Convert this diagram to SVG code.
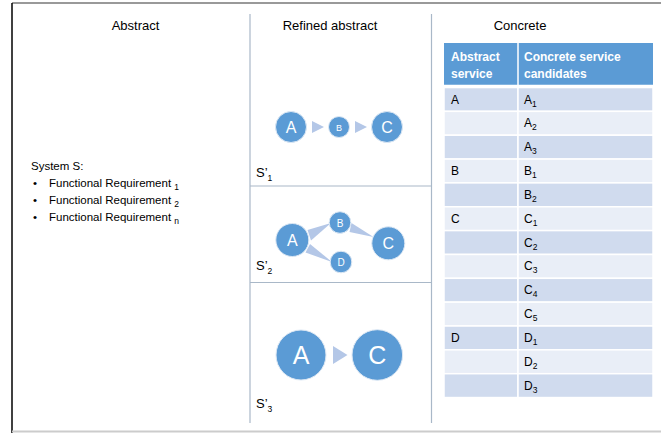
<svg xmlns="http://www.w3.org/2000/svg" width="661" height="433" viewBox="0 0 661 433">
<style>
text{font-family:"Liberation Sans",Arial,sans-serif;fill:#000}
.hd{font-size:13px;text-anchor:middle}
.req{font-size:11.5px}
.sub{font-size:8.5px}
.th{font-size:12px;font-weight:bold;fill:#fff}
.td{font-size:12px}
.node circle{fill:#5b9bd5;stroke:#dde8f4;stroke-width:1}
.node text{fill:#fff;text-anchor:middle}
.arr{fill:#b4c7e7}
.div{stroke:#a9b8c8;stroke-width:1.2}
.dk{fill:#d0dbee;stroke:#fff;stroke-width:1.5}
.lt{fill:#e9eef7;stroke:#fff;stroke-width:1.5}
.sl{font-size:13px}
</style>
<rect x="0" y="0" width="661" height="433" fill="#fff"/>
<g id="frame">
<line x1="12" y1="3" x2="661" y2="3" stroke="#777" stroke-width="1.5"/>
<line x1="12" y1="3" x2="12" y2="433" stroke="#000" stroke-width="1.5"/>
<line x1="12" y1="431.5" x2="661" y2="431.5" stroke="#ccc" stroke-width="2"/>
<line class="div" x1="250" y1="14" x2="250" y2="423"/>
<line class="div" x1="431.5" y1="14" x2="431.5" y2="423"/>
<line class="div" x1="250" y1="186" x2="431.5" y2="186"/>
<line class="div" x1="250" y1="282.5" x2="431.5" y2="282.5"/>
</g>
<g id="headers">
<text class="hd" x="135.5" y="30">Abstract</text>
<text class="hd" x="330" y="30">Refined abstract</text>
<text class="hd" x="520" y="30">Concrete</text>
</g>
<g id="system-s">
<text class="req" x="31" y="170">System S:</text>
<text class="req" x="33" y="187">•</text>
<text class="req" x="49" y="187">Functional Requirement <tspan class="sub" dy="3">1</tspan></text>
<text class="req" x="33" y="204">•</text>
<text class="req" x="49" y="204">Functional Requirement <tspan class="sub" dy="3">2</tspan></text>
<text class="req" x="33" y="221">•</text>
<text class="req" x="49" y="221">Functional Requirement <tspan class="sub" dy="3">n</tspan></text>
</g>
<g id="connectors">
<polygon class="arr" points="312,121 324,127 312,133"/>
<polygon class="arr" points="355,121 367,127 355,133"/>
<polygon class="arr" points="307.5,230 311,240.5 331,223"/>
<polygon class="arr" points="351.5,223 349.5,232 373.5,237"/>
<polygon class="arr" points="310,244 305.5,252.5 332,262"/>
<polygon class="arr" points="333,346 347.5,355 333,364"/>
</g>
<g id="s1">
<text class="sl" x="256" y="177">S’<tspan class="sub" dy="4">1</tspan></text>
</g>
<g id="s1-A" class="node"><circle cx="291" cy="127" r="15.5"/><text x="291" y="133" font-size="16">A</text></g>
<g id="s1-B" class="node"><circle cx="339" cy="127" r="10.5"/><text x="339" y="130.5" font-size="9">B</text></g>
<g id="s1-C" class="node"><circle cx="387" cy="127" r="15.5"/><text x="387" y="133" font-size="16">C</text></g>
<g id="s2">
<text class="sl" x="256" y="270">S’<tspan class="sub" dy="4">2</tspan></text>
</g>
<g id="s2-A" class="node"><circle cx="292.3" cy="240" r="16.5"/><text x="292.3" y="246" font-size="16">A</text></g>
<g id="s2-B" class="node"><circle cx="340" cy="222.5" r="10.8"/><text x="340" y="226.5" font-size="10">B</text></g>
<g id="s2-C" class="node"><circle cx="388.3" cy="243.3" r="16.5"/><text x="388.3" y="249.3" font-size="16">C</text></g>
<g id="s2-D" class="node"><circle cx="341" cy="262" r="10.8"/><text x="341" y="266" font-size="10">D</text></g>
<g id="s3">
<text class="sl" x="256" y="408">S’<tspan class="sub" dy="4">3</tspan></text>
</g>
<g id="s3-A" class="node"><circle cx="301" cy="355" r="25"/><text x="301" y="364" font-size="25">A</text></g>
<g id="s3-C" class="node"><circle cx="377.3" cy="355" r="25.3"/><text x="377.3" y="364" font-size="25">C</text></g>
<g id="table">
<rect x="444" y="43" width="209" height="43" fill="#5b9bd5"/>
<line x1="518" y1="43" x2="518" y2="86" stroke="#fff" stroke-width="1.5"/>
<line x1="444" y1="86" x2="653" y2="86" stroke="#fff" stroke-width="2.5"/>
<text class="th" x="451" y="61">Abstract</text>
<text class="th" x="451" y="78">service</text>
<text class="th" x="524" y="61">Concrete service</text>
<text class="th" x="524" y="78">candidates</text>
<rect class="dk" x="444" y="87.5" width="74" height="23.85"/><rect class="dk" x="518" y="87.5" width="135" height="23.85"/>
<rect class="lt" x="444" y="111.35" width="74" height="23.85"/><rect class="lt" x="518" y="111.35" width="135" height="23.85"/>
<rect class="dk" x="444" y="135.2" width="74" height="23.85"/><rect class="dk" x="518" y="135.2" width="135" height="23.85"/>
<rect class="lt" x="444" y="159.05" width="74" height="23.85"/><rect class="lt" x="518" y="159.05" width="135" height="23.85"/>
<rect class="dk" x="444" y="182.9" width="74" height="23.85"/><rect class="dk" x="518" y="182.9" width="135" height="23.85"/>
<rect class="lt" x="444" y="206.75" width="74" height="23.85"/><rect class="lt" x="518" y="206.75" width="135" height="23.85"/>
<rect class="dk" x="444" y="230.6" width="74" height="23.85"/><rect class="dk" x="518" y="230.6" width="135" height="23.85"/>
<rect class="lt" x="444" y="254.45" width="74" height="23.85"/><rect class="lt" x="518" y="254.45" width="135" height="23.85"/>
<rect class="dk" x="444" y="278.3" width="74" height="23.85"/><rect class="dk" x="518" y="278.3" width="135" height="23.85"/>
<rect class="lt" x="444" y="302.15" width="74" height="23.85"/><rect class="lt" x="518" y="302.15" width="135" height="23.85"/>
<rect class="dk" x="444" y="326" width="74" height="23.85"/><rect class="dk" x="518" y="326" width="135" height="23.85"/>
<rect class="lt" x="444" y="349.85" width="74" height="23.85"/><rect class="lt" x="518" y="349.85" width="135" height="23.85"/>
<rect class="dk" x="444" y="373.7" width="74" height="23.85"/><rect class="dk" x="518" y="373.7" width="135" height="23.85"/>
<text class="td" x="451" y="103.5">A</text>
<text class="td" x="451" y="175">B</text>
<text class="td" x="451" y="222.7">C</text>
<text class="td" x="451" y="342">D</text>
<text class="td" x="524" y="103.5">A<tspan class="sub" dy="3">1</tspan></text>
<text class="td" x="524" y="127.3">A<tspan class="sub" dy="3">2</tspan></text>
<text class="td" x="524" y="151.2">A<tspan class="sub" dy="3">3</tspan></text>
<text class="td" x="524" y="175">B<tspan class="sub" dy="3">1</tspan></text>
<text class="td" x="524" y="198.9">B<tspan class="sub" dy="3">2</tspan></text>
<text class="td" x="524" y="222.7">C<tspan class="sub" dy="3">1</tspan></text>
<text class="td" x="524" y="246.6">C<tspan class="sub" dy="3">2</tspan></text>
<text class="td" x="524" y="270.4">C<tspan class="sub" dy="3">3</tspan></text>
<text class="td" x="524" y="294.3">C<tspan class="sub" dy="3">4</tspan></text>
<text class="td" x="524" y="318.1">C<tspan class="sub" dy="3">5</tspan></text>
<text class="td" x="524" y="342">D<tspan class="sub" dy="3">1</tspan></text>
<text class="td" x="524" y="365.8">D<tspan class="sub" dy="3">2</tspan></text>
<text class="td" x="524" y="389.7">D<tspan class="sub" dy="3">3</tspan></text>
</g>
</svg>
